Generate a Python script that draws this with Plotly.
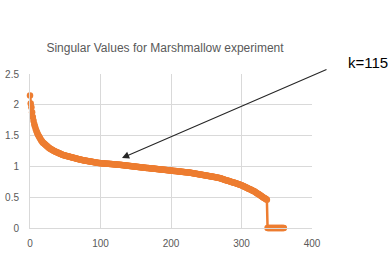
import plotly.graph_objects as go

title_text = "Singular Values for Marshmallow experiment"
annot_text = "k=115"

singular_values = [
    2.15, 2.02, 1.96, 1.88, 1.80, 1.74, 1.69, 1.65, 1.61, 1.58,
    1.55, 1.52, 1.50, 1.48, 1.46, 1.44, 1.42, 1.41, 1.39, 1.38,
    1.37, 1.36, 1.35, 1.34, 1.33, 1.32, 1.31, 1.30, 1.29, 1.285,
    1.28, 1.27, 1.265, 1.26, 1.25, 1.245, 1.24, 1.235, 1.23, 1.225,
    1.22, 1.215, 1.21, 1.205, 1.20, 1.195, 1.19, 1.186, 1.182, 1.178,
    1.175, 1.172, 1.169, 1.166, 1.163, 1.16, 1.157, 1.154, 1.151, 1.148,
    1.145, 1.142, 1.139, 1.136, 1.133, 1.13, 1.127, 1.124, 1.121, 1.118,
    1.115, 1.112, 1.109, 1.106, 1.103, 1.10, 1.098, 1.096, 1.094, 1.092,
    1.09, 1.088, 1.086, 1.084, 1.082, 1.08, 1.078, 1.076, 1.074, 1.072,
    1.07, 1.068, 1.066, 1.064, 1.062, 1.06, 1.058, 1.056, 1.055, 1.054,
    1.053, 1.052, 1.051, 1.05, 1.049, 1.048, 1.047, 1.046, 1.045, 1.044,
    1.043, 1.042, 1.041, 1.04, 1.039, 1.038, 1.037, 1.036, 1.035, 1.034,
    1.033, 1.032, 1.031, 1.03, 1.029, 1.028, 1.027, 1.026, 1.025, 1.024,
    1.022, 1.021, 1.02, 1.018, 1.017, 1.016, 1.014, 1.013, 1.012, 1.01,
    1.009, 1.008, 1.006, 1.005, 1.004, 1.002, 1.001, 1.00, 0.998, 0.997,
    0.996, 0.994, 0.993, 0.992, 0.99, 0.989, 0.988, 0.986, 0.985, 0.984,
    0.982, 0.981, 0.98, 0.978, 0.977, 0.976, 0.974, 0.973, 0.972, 0.971,
    0.97, 0.969, 0.967, 0.966, 0.965, 0.964, 0.962, 0.961, 0.96, 0.959,
    0.957, 0.956, 0.955, 0.954, 0.952, 0.951, 0.95, 0.949, 0.947, 0.946,
    0.945, 0.944, 0.942, 0.941, 0.94, 0.939, 0.937, 0.936, 0.935, 0.934,
    0.932, 0.931, 0.93, 0.929, 0.927, 0.926, 0.925, 0.924, 0.922, 0.921,
    0.92, 0.919, 0.917, 0.916, 0.915, 0.914, 0.912, 0.911, 0.91, 0.909,
    0.907, 0.906, 0.905, 0.904, 0.902, 0.901, 0.90, 0.898, 0.896, 0.894,
    0.892, 0.89, 0.888, 0.886, 0.884, 0.882, 0.88, 0.878, 0.876, 0.874,
    0.872, 0.87, 0.868, 0.866, 0.864, 0.862, 0.86, 0.858, 0.856, 0.854,
    0.852, 0.85, 0.848, 0.846, 0.844, 0.842, 0.84, 0.837, 0.835, 0.833,
    0.831, 0.828, 0.826, 0.824, 0.822, 0.819, 0.817, 0.815, 0.812, 0.81,
    0.806, 0.803, 0.799, 0.795, 0.792, 0.788, 0.784, 0.781, 0.777, 0.773,
    0.77, 0.766, 0.762, 0.759, 0.755, 0.751, 0.748, 0.744, 0.74, 0.737,
    0.733, 0.729, 0.726, 0.722, 0.718, 0.715, 0.711, 0.707, 0.704, 0.70,
    0.694, 0.689, 0.683, 0.678, 0.672, 0.667, 0.661, 0.656, 0.65, 0.645,
    0.639, 0.634, 0.628, 0.623, 0.617, 0.612, 0.606, 0.601, 0.595, 0.59,
    0.582, 0.574, 0.566, 0.558, 0.55, 0.542, 0.534, 0.526, 0.518, 0.51,
    0.503, 0.496, 0.489, 0.482, 0.475, 0.468, 0.46,
    0, 0, 0, 0, 0, 0, 0, 0, 0, 0,
    0, 0, 0, 0, 0, 0, 0, 0, 0, 0,
    0, 0, 0, 0,
]
indices = list(range(len(singular_values)))

x_ticks = [0, 100, 200, 300, 400]
y_ticks = [0, 0.5, 1, 1.5, 2, 2.5]
y_tick_labels = ["0", "0.5", "1", "1.5", "2", "2.5"]

arrow_head = (130.5, 1.137)

fig = go.Figure()
fig.add_trace(go.Scatter(
    x=indices, y=singular_values, mode="lines+markers",
    line=dict(color="#ED7D31", width=2.5),
    marker=dict(color="#ED7D31", size=6.5, symbol="circle"),
    cliponaxis=False, showlegend=False,
))

grid = "#d9d9d9"
font_family = "Liberation Sans, Arial, sans-serif"
tickfont = dict(family=font_family, size=10, color="#595959")

fig.update_layout(
    width=392, height=254,
    margin=dict(l=30, r=80, t=73.5, b=25.5, autoexpand=False),
    paper_bgcolor="white", plot_bgcolor="white",
    title=dict(text=title_text, x=165 / 392, xanchor="center",
               y=1 - 48 / 254, yanchor="middle",
               font=dict(family=font_family, size=12, color="#595959")),
    xaxis=dict(range=[0, 400], tickvals=x_ticks, showgrid=True, gridcolor=grid, gridwidth=1,
               zeroline=False, showline=True, linecolor=grid, linewidth=1, automargin=False,
               ticks="", tickfont=tickfont, ticklabelstandoff=6),
    yaxis=dict(range=[0, 2.5], tickvals=y_ticks, ticktext=y_tick_labels, showgrid=True,
               gridcolor=grid, gridwidth=1, zeroline=False, showline=True, linecolor=grid,
               linewidth=1, automargin=False, ticks="", tickfont=tickfont, ticklabelstandoff=8),
    annotations=[
        dict(x=arrow_head[0], y=arrow_head[1], xref="x", yref="y",
             ax=206, ay=-89, text="", showarrow=True,
             arrowhead=2, arrowsize=1.3, arrowwidth=1.1, arrowcolor="#262626"),
        dict(x=(367.5 - 30) / 282, y=(228.5 - 62) / 155, xref="paper", yref="paper",
             text=annot_text, showarrow=False, xanchor="center", yanchor="middle",
             font=dict(family=font_family, size=15, color="black")),
    ],
)

fig.write_html("out.html")
